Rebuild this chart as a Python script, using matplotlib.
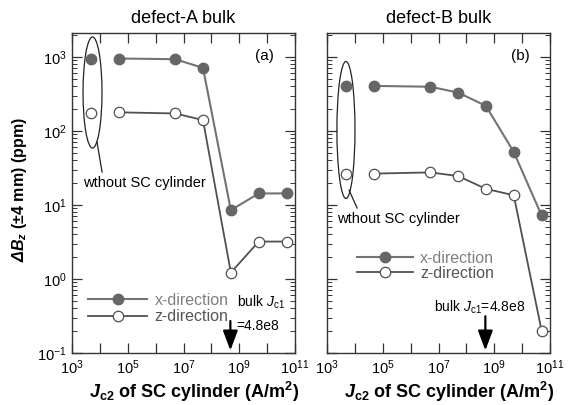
import matplotlib
matplotlib.use("Agg")
import matplotlib.pyplot as plt
from matplotlib.patches import Ellipse
from matplotlib.ticker import (LogLocator, FixedLocator, FuncFormatter,
                               NullFormatter, NullLocator)
import numpy as np

plt.rcParams['font.family'] = ['Liberation Sans', 'DejaVu Sans']
plt.rcParams['mathtext.fontset'] = 'custom'
plt.rcParams['mathtext.rm'] = 'Liberation Sans'
plt.rcParams['mathtext.it'] = 'Liberation Sans:italic'
plt.rcParams['mathtext.bf'] = 'Liberation Sans:bold'
plt.rcParams['mathtext.bfit'] = 'Liberation Sans:bold:italic'

# Jc2 of the SC cylinder (A/m^2); the first point is the case without a cylinder
jc2_no_cyl = 5e3
jc2 = [5e4, 5e6, 5e7, 5e8, 5e9, 5e10]
jc1_bulk = 4.8e8

# defect-A bulk
a_x_none = 950
a_z_none = 175
a_x = [950, 930, 710, 8.5, 14.3, 14.3]
a_z = [178, 172, 140, 1.22, 3.2, 3.2]

# defect-B bulk
b_x_none = 405
b_z_none = 26.5
b_x = [405, 395, 330, 218, 52, 7.2]
b_z = [26.5, 27.5, 24.6, 16.5, 13.5, 0.2]

titles = ['defect-A bulk', 'defect-B bulk']
panel_tags = ['(a)', '(b)']
x_decades = [1e3, 1e4, 1e5, 1e6, 1e7, 1e8, 1e9, 1e10, 1e11]

X_LINE = '#737373'
X_MARK = '#666666'
Z_LINE = '#505050'

fig = plt.figure(figsize=(5.7, 4.05), dpi=100)
ax_a = fig.add_axes([72 / 570, 52 / 405, 223 / 570, 320 / 405])
ax_b = fig.add_axes([327 / 570, 52 / 405, 223 / 570, 320 / 405])


def xfmt(v, pos):
    e = int(round(np.log10(v)))
    return r'$10^{%d}$' % e if e % 2 == 1 else ''


def draw(ax, xn, zn, xs, zs, title, tag):
    ax.plot([jc2_no_cyl], [xn], 'o', color=X_MARK, ms=7.5, zorder=3)
    ax.plot([jc2_no_cyl], [zn], 'o', mfc='white', mec=Z_LINE, mew=0.9, ms=7.5, zorder=3)
    ax.plot(jc2, xs, '-o', color=X_LINE, mfc=X_MARK, mec=X_MARK, lw=1.5, ms=7.5,
            label='x-direction', zorder=3)
    ax.plot(jc2, zs, '-o', color=Z_LINE, mfc='white', mec=Z_LINE, mew=0.9, lw=1.3,
            ms=7.5, label='z-direction', zorder=2)
    ax.set_xscale('log')
    ax.set_yscale('log')
    ax.set_xlim(1e3, 1e11)
    ax.set_ylim(0.1, 2100)
    ax.xaxis.set_major_locator(FixedLocator(x_decades))
    ax.xaxis.set_minor_locator(NullLocator())
    ax.xaxis.set_major_formatter(FuncFormatter(xfmt))
    ax.yaxis.set_major_locator(LogLocator(base=10, numticks=20))
    ax.yaxis.set_minor_locator(LogLocator(base=10, subs=np.arange(2, 10), numticks=20))
    ax.tick_params(which='major', direction='in', length=7, width=0.9,
                   top=True, right=True, labelsize=10.5, pad=4, colors='#333333',
                   labelcolor='black')
    ax.tick_params(which='minor', direction='in', length=3.5, width=0.7,
                   top=True, right=True, colors='#333333')
    for s in ax.spines.values():
        s.set_linewidth(1.0)
        s.set_color('#333333')
    ax.set_title(title, fontsize=13, pad=7)
    ax.text(0.865, 0.928, tag, transform=ax.transAxes, fontsize=11,
            ha='center', va='center')
    ax.set_xlabel(r'$\mathbfit{J}_{\mathbf{c2}}$ of SC cylinder (A/m$^{\mathbf{2}}$)',
                  fontsize=13, fontweight='bold')
    ax.xaxis.set_label_coords(0.55, -0.085)


draw(ax_a, a_x_none, a_z_none, a_x, a_z, titles[0], panel_tags[0])
draw(ax_b, b_x_none, b_z_none, b_x, b_z, titles[1], panel_tags[1])
ax_b.yaxis.set_major_formatter(NullFormatter())
ax_b.yaxis.set_minor_formatter(NullFormatter())

ax_a.set_ylabel(r'$\mathbfit{\Delta B}_{\mathbfit{z}}$ (±4 mm) (ppm)',
                fontsize=11.5, fontweight='bold')
ax_a.yaxis.set_label_coords(-0.195, 0.51)

# grouping ellipses for the no-cylinder points
ax_a.add_patch(Ellipse((0.092, 0.814), 0.085, 0.347, transform=ax_a.transAxes,
                       fill=False, lw=0.9, ec='#222222'))
ax_a.plot([0.112, 0.135], [0.66, 0.565], transform=ax_a.transAxes, color='#222222', lw=0.9)
ax_a.text(0.05, 0.53, 'wthout SC cylinder', transform=ax_a.transAxes,
          fontsize=10.5, ha='left', va='center')

ax_b.add_patch(Ellipse((0.085, 0.697), 0.081, 0.428, transform=ax_b.transAxes,
                       fill=False, lw=0.9, ec='#222222'))
ax_b.plot([0.099, 0.135], [0.509, 0.453], transform=ax_b.transAxes, color='#222222', lw=0.9)
ax_b.text(0.045, 0.419, 'wthout SC cylinder', transform=ax_b.transAxes,
          fontsize=10.5, ha='left', va='center')

# legends
for ax, anchor, spacing, hl in [(ax_a, (0.072, 0.139), 0.12, 3.7),
                                (ax_b, (0.135, 0.273), 0.0, 3.5)]:
    leg = ax.legend(loc='center left', bbox_to_anchor=anchor, frameon=False,
                    fontsize=11.5, handlelength=hl, handletextpad=0.45,
                    labelspacing=spacing, borderpad=0, borderaxespad=0)
    leg.get_texts()[0].set_color('#808080')
    leg.get_texts()[1].set_color('#555555')

# bulk Jc1 markers
arrow_style = dict(arrowstyle='-|>,head_length=1.2,head_width=0.45',
                   color='black', lw=1.6, shrinkA=0, shrinkB=0)
ax_a.text(0.738, 0.158, r'bulk $J_{\mathregular{c1}}$', transform=ax_a.transAxes,
          fontsize=10, ha='left', va='center')
ax_a.text(0.738, 0.085, '=4.8e8', transform=ax_a.transAxes,
          fontsize=10, ha='left', va='center')
ax_a.annotate('', xy=(jc1_bulk, 0.008), xytext=(jc1_bulk, 0.10),
              xycoords=('data', 'axes fraction'), textcoords=('data', 'axes fraction'),
              arrowprops=arrow_style)

ax_b.text(0.48, 0.143, r'bulk $J_{\mathregular{c1}}$=4.8e8', transform=ax_b.transAxes,
          fontsize=10, ha='left', va='center')
ax_b.annotate('', xy=(jc1_bulk, 0.008), xytext=(jc1_bulk, 0.115),
              xycoords=('data', 'axes fraction'), textcoords=('data', 'axes fraction'),
              arrowprops=arrow_style)

fig.savefig('out.png', dpi=100)
